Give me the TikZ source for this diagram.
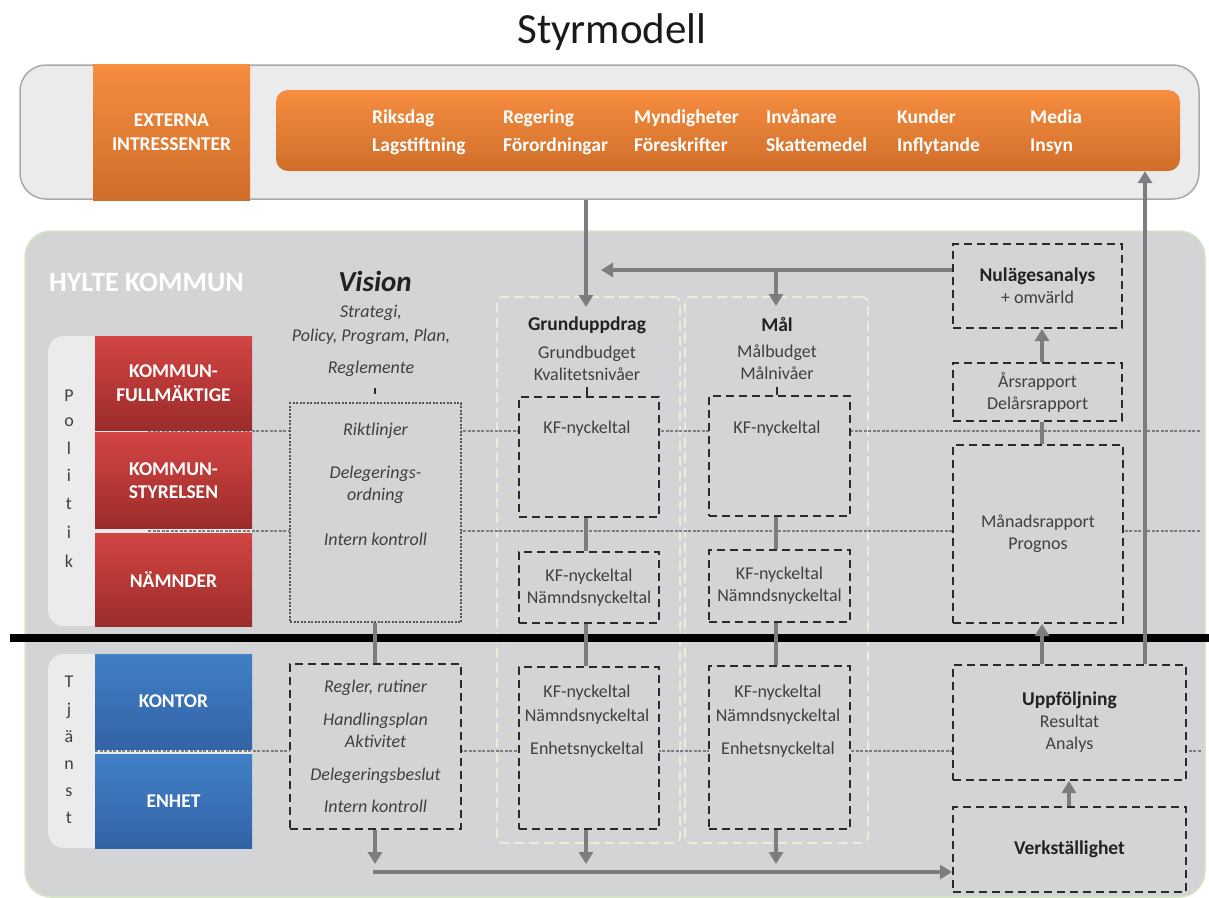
\documentclass[tikz,border=0pt]{standalone}
\usepackage{fontspec}
\setmainfont{Carlito}
\usetikzlibrary{arrows.meta}
\definecolor{panelgray}{HTML}{D3D4D6}
\definecolor{lightpanel}{HTML}{EBEBEB}
\definecolor{panelborder}{HTML}{A9A9A9}
\definecolor{greenedge}{HTML}{D6E5C4}
\definecolor{orangeT}{HTML}{F68D3F}
\definecolor{orangeB}{HTML}{CF6E2A}
\definecolor{redT}{HTML}{D24543}
\definecolor{redB}{HTML}{9B2C2A}
\definecolor{blueT}{HTML}{4080C6}
\definecolor{blueB}{HTML}{3462A6}
\definecolor{conncol}{HTML}{7D7D80}
\definecolor{txtcol}{HTML}{404040}
\definecolor{darktxt}{HTML}{222222}
\definecolor{boxline}{HTML}{2A2A2A}
\definecolor{colline}{HTML}{E8EFD6}
\definecolor{gridcol}{HTML}{7E7E7E}
\definecolor{titlecol}{HTML}{1A1A1A}
\tikzset{
  txt/.style={font=\fontsize{18}{22}\selectfont, text=txtcol, align=center, inner sep=0pt},
  txtw/.style={font=\fontsize{18}{24}\selectfont, text=txtcol, align=center, inner sep=0pt},
  btxt/.style={font=\fontsize{19.5}{23}\selectfont\bfseries, text=darktxt, align=center, inner sep=0pt},
  itxt/.style={font=\fontsize{18}{22}\selectfont\itshape, text=txtcol, align=center, inner sep=0pt},
  ilist/.style={font=\fontsize{18}{24}\selectfont\itshape, text=txtcol, align=center, inner sep=0pt},
  otxt/.style={font=\fontsize{19.5}{23}\selectfont\bfseries, text=white, anchor=west, inner sep=0pt, text height=13pt, text depth=4pt},
  wbox/.style={font=\fontsize{19.5}{23.5}\selectfont\bfseries, text=white, align=center, inner sep=0pt},
  redbox/.style={wbox, top color=redT, bottom color=redB, minimum width=157pt},
  bluebox/.style={wbox, top color=blueT, bottom color=blueB, minimum width=157pt},
  dbox/.style={draw=boxline, dash pattern=on 8pt off 5pt, line width=2pt, fill=panelgray, inner sep=0pt, font=\fontsize{18}{22}\selectfont, text=txtcol, align=center},
  vbox/.style={draw=boxline!80, dash pattern=on 2pt off 1.5pt, line width=1.6pt, fill=panelgray, inner sep=0pt},
  colbox/.style={draw=colline, dash pattern=on 10pt off 5pt, line width=1.6pt, rounded corners=6pt, inner sep=0pt},
  conn/.style={draw=conncol, line width=3.3pt},
  arr/.style={conn, -{Triangle[length=12pt,width=14pt]}},
  gridline/.style={draw=gridcol, line width=1.1pt, dash pattern=on 3pt off 1.5pt},
  stub/.style={draw=boxline, line width=1.4pt},
}
\begin{document}
\begin{tikzpicture}[x=1pt,y=-1pt]
\useasboundingbox (0,0) rectangle (1209,897);
\fill[white] (0,0) rectangle (1209,897);

% title
\node[font=\fontsize{43}{50}\selectfont, text=titlecol, inner sep=0pt] (title) at (612,32) {Styrmodell};

% top panel
\node[draw=panelborder, line width=1.5pt, fill=lightpanel, rounded corners=26pt, minimum width=1179pt, minimum height=134pt, inner sep=0pt] (top) at (609.5,132) {};
\node[wbox, top color=orangeT, bottom color=orangeB, minimum width=157pt, minimum height=136pt] (ext) at (171.5,132) {EXTERNA\\INTRESSENTER};
\node[top color=orangeT, bottom color=orangeB, rounded corners=12pt, minimum width=904pt, minimum height=81pt, inner sep=0pt] (bar) at (728,130.5) {};
\foreach \x/\a/\b [count=\i] in {372/Riksdag/Lagstiftning, 503/Regering/Förordningar, 634/Myndigheter/Föreskrifter, 766/Invånare/Skattemedel, 897/Kunder/Inflytande, 1030/Media/Insyn}{
  \node[otxt] (oa\i) at (\x,119) {\a};
  \node[otxt] (ob\i) at (\x,147) {\b};
}

% main panel
\node[draw=greenedge, line width=1.5pt, fill=panelgray, rounded corners=26pt, minimum width=1180pt, minimum height=666pt, inner sep=0pt] (main) at (615,564) {};
\node[font=\fontsize{28}{34}\selectfont\bfseries, text=white, inner sep=0pt] (hylte) at (146.5,282) {HYLTE KOMMUN};

% side panels
\node[fill=lightpanel, rounded corners=16pt, minimum width=204pt, minimum height=290pt, inner sep=0pt] (pol) at (150,481) {};
\node[fill=lightpanel, rounded corners=16pt, minimum width=204pt, minimum height=194pt, inner sep=0pt] (tja) at (150,751) {};
\foreach \l/\y [count=\i] in {P/396,o/422,l/448,i/475,t/504,i/532,k/561}
  \node[txt] (pl\i) at (69,\y) {\l};
\foreach \l/\y [count=\i] in {T/682,j/711,ä/737,n/765,s/792,t/818}
  \node[txt] (tj\i) at (69,\y) {\l};

% columns
\node[colbox, minimum width=183pt, minimum height=546pt] (colG) at (588.5,570) {};
\node[colbox, minimum width=183pt, minimum height=546pt] (colM) at (776.5,570) {};

% grid lines
\coordinate (g1s) at (148,431); \coordinate (g1e) at (1201,431);
\coordinate (g2s) at (148,531); \coordinate (g2e) at (1201,531);
\coordinate (g3s) at (95,751);  \coordinate (g3e) at (1201,751);
\draw[gridline] (g1s) -- (g1e);
\draw[gridline] (g2s) -- (g2e);
\draw[gridline] (g3s) -- (g3e);

% red / blue boxes
\node[redbox, minimum height=94pt] (kfm) at (173.5,383) {KOMMUN-\\FULLMÄKTIGE};
\node[redbox, minimum height=96pt] (kst) at (173.5,480.5) {KOMMUN-\\STYRELSEN};
\node[redbox, minimum height=93pt] (nam) at (173.5,579.5) {NÄMNDER};
\node[bluebox, minimum height=95pt] (kontor) at (173.5,701.5) {KONTOR};
\node[bluebox, minimum height=94pt] (enhet) at (173.5,801) {ENHET};

% vision column
\node[font=\fontsize{29}{34}\selectfont\bfseries\itshape, text=darktxt, inner sep=0pt] (vision) at (375,281) {Vision};
\node[ilist] (visl) at (371,341) {Strategi,\\Policy, Program, Plan,\\[8pt]Reglemente};
\coordinate (vstub) at (375,388);
\draw[stub] (vstub) -- ++(0,6);
\node[vbox, minimum width=171pt, minimum height=219pt] (vis1) at (375.5,512.5) {};
\node[itxt] (vis1t) at (375.5,484) {Riktlinjer\\[21pt]Delegerings-\\ordning\\[23pt]Intern kontroll};
\node[dbox, font=\fontsize{18}{22}\selectfont\itshape, minimum width=171pt, minimum height=165pt] (vis2) at (375.5,746.5) {Regler, rutiner\\[11pt]Handlingsplan\\Aktivitet\\[11pt]Delegeringsbeslut\\[10pt]Intern kontroll};

% Grunduppdrag column
\node[btxt] (gtitle) at (587,325) {Grunduppdrag};
\node[txt] (gsub) at (587,363) {Grundbudget\\Kvalitetsnivåer};
\node[dbox, minimum width=140pt, minimum height=120pt] (kf1) at (589,457) {};
\node[txt] (kf1t) at (587,429) {KF-nyckeltal};
\node[dbox, minimum width=140pt, minimum height=71pt] (kf2) at (589,587.5) {KF-nyckeltal\\Nämndsnyckeltal};
\node[dbox, minimum width=140pt, minimum height=162pt] (kf3) at (589,748) {};
\node[txtw] (kf3t) at (587,721.5) {KF-nyckeltal\\Nämndsnyckeltal\\[9pt]Enhetsnyckeltal};

% Mål column
\node[btxt] (mtitle) at (777,325) {Mål};
\node[txt] (msub) at (777,362) {Målbudget\\Målnivåer};
\node[dbox, minimum width=141pt, minimum height=120pt] (mk1) at (779.5,456) {};
\node[txt] (mk1t) at (777,429) {KF-nyckeltal};
\node[dbox, minimum width=141pt, minimum height=72pt] (mk2) at (779.5,586) {KF-nyckeltal\\Nämndsnyckeltal};
\node[dbox, minimum width=141pt, minimum height=163pt] (mk3) at (779.5,747.5) {};
\node[txtw] (mk3t) at (778,721.5) {KF-nyckeltal\\Nämndsnyckeltal\\[9pt]Enhetsnyckeltal};

% right column
\node[dbox, minimum width=169pt, minimum height=84pt] (nul) at (1037.5,286) {{\fontsize{19.5}{22}\selectfont\bfseries\color{darktxt}Nulägesanalys}\\+ omvärld};
\node[dbox, minimum width=169pt, minimum height=58pt] (ars) at (1037.5,392) {Årsrapport\\Delårsrapport};
\node[dbox, minimum width=170pt, minimum height=178pt] (man) at (1038,534) {Månadsrapport\\Prognos};
\node[dbox, minimum width=233pt, minimum height=115pt] (upp) at (1069.5,722.5) {{\fontsize{19.5}{22}\selectfont\bfseries\color{darktxt}Uppföljning}\\Resultat\\Analys};
\node[dbox, minimum width=233pt, minimum height=85pt] (verk) at (1069.5,849.5) {{\fontsize{19.5}{22}\selectfont\bfseries\color{darktxt}Verkställighet}};

% black divider
\coordinate (bl1) at (10,638); \coordinate (bl2) at (1209,638);
\draw[line width=8pt, black] (bl1) -- (bl2);

% connectors
\coordinate (vx) at (375,0);
\coordinate (gx) at (586,0);
\coordinate (mx) at (776,0);
\coordinate (rx) at (1042,0);
\coordinate (ux) at (1069,0);
\coordinate (lx) at (1145,0);
\coordinate (dtip) at (0,864);
\coordinate (gtip) at (0,307);
\coordinate (mtip) at (0,306);
\coordinate (hl) at (0,270);
\coordinate (hlend) at (601,270);
\coordinate (bstart) at (373,872);
\coordinate (gstub) at (587,387);
\coordinate (mstub) at (777,387);

\draw[stub] (gstub) -- (gstub |- kf1.north);
\draw[stub] (mstub) -- (mstub |- mk1.north);

\draw[conn] (vis1.south -| vx) -- (vis2.north -| vx);
\draw[arr] (vis2.south -| vx) -- (vx |- dtip);

\draw[conn] (kf1.south -| gx) -- (kf2.north -| gx);
\draw[conn] (kf2.south -| gx) -- (kf3.north -| gx);
\draw[arr] (kf3.south -| gx) -- (gx |- dtip);

\draw[conn] (mk1.south -| mx) -- (mk2.north -| mx);
\draw[conn] (mk2.south -| mx) -- (mk3.north -| mx);
\draw[arr] (mk3.south -| mx) -- (mx |- dtip);

\draw[arr] (bstart) -- (verk.west |- bstart);

\draw[arr] (top.south -| gx) -- (gx |- gtip);
\draw[arr] (nul.west |- hl) -- (hlend);
\draw[arr] (mx |- hl) -- (mx |- mtip);

\draw[arr] (ars.north -| rx) -- (nul.south -| rx);
\draw[conn] (ars.south -| rx) -- (man.north -| rx);
\draw[arr] (upp.north -| rx) -- (man.south -| rx);
\draw[arr] (verk.north -| ux) -- (upp.south -| ux);
\draw[arr] (upp.north -| lx) -- (bar.south -| lx);
\end{tikzpicture}
\end{document}
